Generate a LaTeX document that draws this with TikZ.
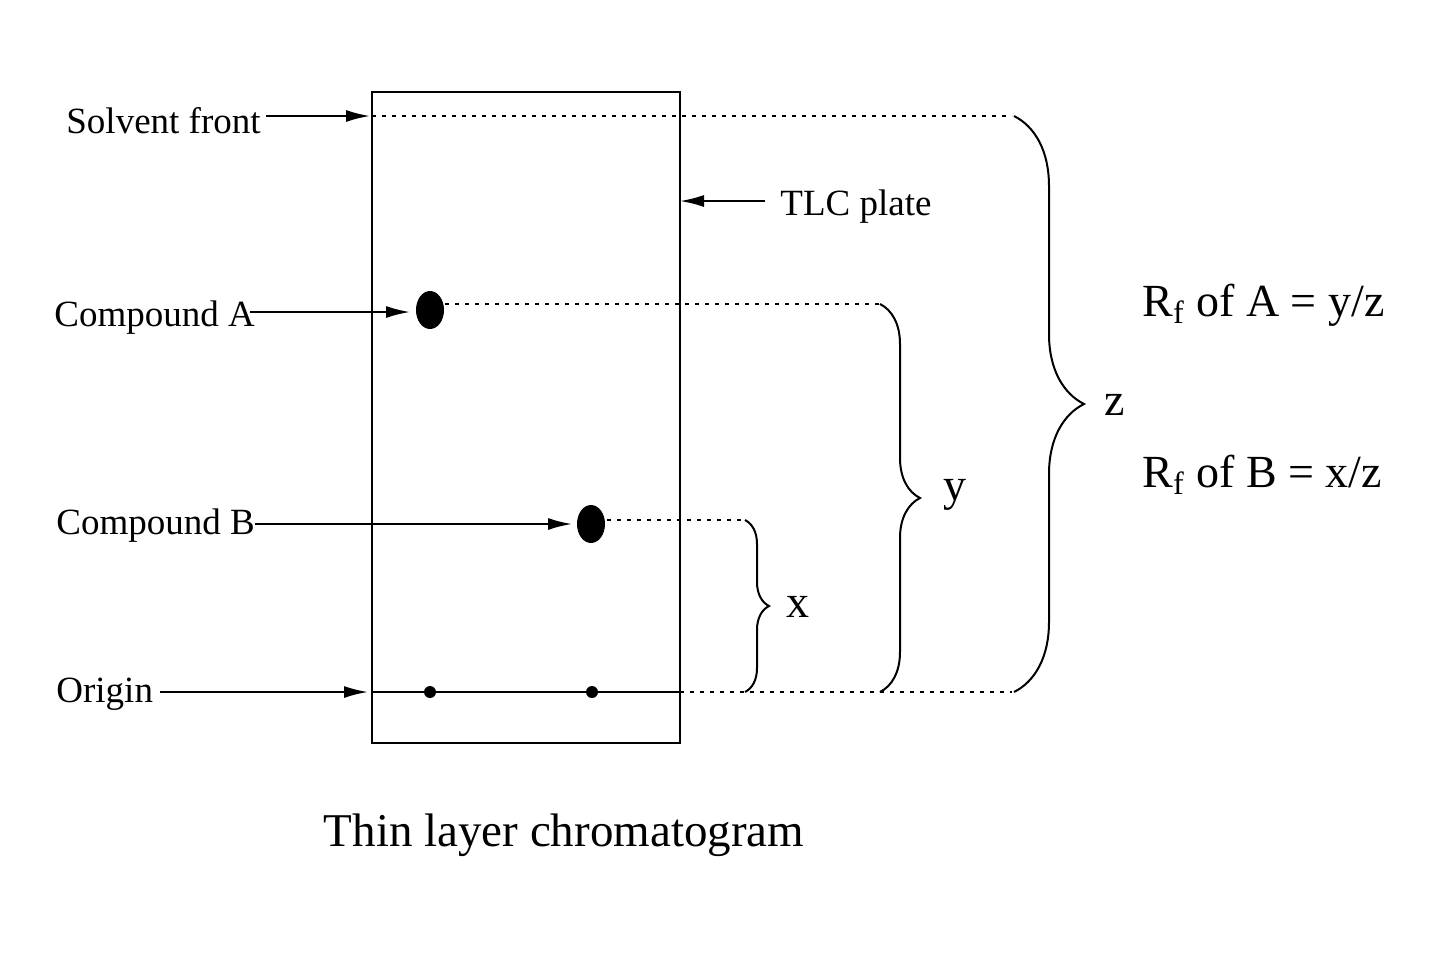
\documentclass[tikz,border=0pt]{standalone}
\usepackage{fontspec}
\setmainfont{Liberation Serif}
\usetikzlibrary{decorations.pathreplacing,arrows.meta,shapes.geometric}
\begin{document}
\begin{tikzpicture}[x=0.5pt,y=-0.5pt,
  lab/.style={font=\fontsize{18.5}{20}\selectfont,inner sep=0pt},
  big/.style={font=\fontsize{23}{26}\selectfont,inner sep=0pt},
  arr/.style={-{Latex[length=12pt,width=6pt]},line width=1pt},
  dot/.style={dash pattern=on 2pt off 3pt,line width=0.8pt},
  br/.style={decorate,decoration={brace,amplitude=#1},line width=1pt}]
\useasboundingbox (0,0) rectangle (1440,960);
\node[draw,line width=1pt,minimum width=154pt,minimum height=325.5pt,inner sep=0pt] (plate) at (526,417.5) {};
\node[lab,anchor=west] (sf) at (66,121) {Solvent front};
\node[lab,anchor=west] (tlc) at (780,207) {TLC plate};
\node[lab,anchor=west] (ca) at (54,318) {Compound A};
\node[lab,anchor=west] (cb) at (56,526) {Compound B};
\node[lab,anchor=west] (or) at (56,694) {Origin};
\node[fill,ellipse,minimum width=14pt,minimum height=19pt,inner sep=0pt] (sa) at (430,310) {};
\node[fill,ellipse,minimum width=14pt,minimum height=19pt,inner sep=0pt] (sb) at (591,524) {};
\node[fill,circle,minimum size=6pt,inner sep=0pt] (oa) at (430,692) {};
\node[fill,circle,minimum size=6pt,inner sep=0pt] (ob) at (592,692) {};
\coordinate (sfs) at (266,116); \coordinate (sfp) at (370,116);
\coordinate (tlcs) at (765,201); \coordinate (tlcp) at (680,201);
\coordinate (cas) at (250,312); \coordinate (cap) at (410,312);
\coordinate (cbs) at (255,524); \coordinate (cbp) at (572,524);
\coordinate (ors) at (160,692); \coordinate (orp) at (368,692);
\draw[arr] (sfs) -- (sfp);
\draw[arr] (tlcs) -- (tlcp);
\draw[arr] (cas) -- (cap);
\draw[arr] (cbs) -- (cbp);
\draw[arr] (ors) -- (orp);
\draw[line width=1pt] (372,692) -- (680,692);
\draw[dot] (372,116) -- (1012,116);
\draw[dot] (445,304) -- (880,304);
\draw[dot] (607,520) -- (745,520);
\draw[dot] (680,692) -- (1012,692);
\draw[br=12pt] (745,520) -- (745,692);
\draw[br=20pt] (880,304) -- (880,692);
\draw[br=35pt] (1014,116) -- (1014,692);
\node[big] (x) at (798,607) {x};
\node[big] (y) at (955,495) {y};
\node[big] (z) at (1115,405) {z};
\node[big,anchor=west] (ra) at (1142,305) {R\textsubscript{f} of A = y/z};
\node[big,anchor=west] (rb) at (1142,475) {R\textsubscript{f} of B = x/z};
\node[big,font=\fontsize{23.5}{26}\selectfont] (capt) at (564,835) {Thin layer chromatogram};
\end{tikzpicture}
\end{document}
